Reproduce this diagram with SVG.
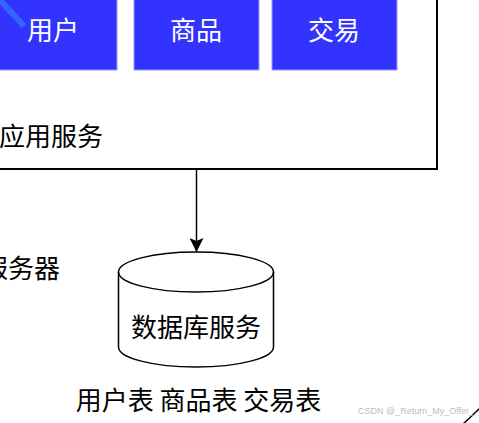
<svg xmlns="http://www.w3.org/2000/svg" width="479" height="423" viewBox="0 0 479 423">
<defs>
<style>
.box{fill:#3333ff;stroke:#9999ff;stroke-width:1}
.wt{fill:#ffffff;font-family:"Noto Sans CJK SC","Noto Sans",sans-serif;font-size:26px;text-anchor:middle}
.bt{fill:#000000;font-family:"Noto Sans CJK SC","Noto Sans",sans-serif;font-size:26px}
.ln{fill:none;stroke:#000;stroke-width:1.5}
</style>
<marker id="ah" viewBox="0 0 14 14" refX="14" refY="7" markerWidth="14" markerHeight="14" markerUnits="userSpaceOnUse" orient="auto">
<path d="M0 0 L14 7 L0 14 L3 7 Z" fill="#000"/>
</marker>
</defs>
<rect width="479" height="423" fill="#fff"/>
<g id="app-server">
<rect x="-20" y="-20" width="457" height="189" fill="#fff" stroke="#000" stroke-width="2"/>
<text class="bt" x="-1" y="146">应用服务</text>
</g>
<g id="user">
<rect class="box" x="-10" y="-10" width="127" height="80"/>
<line x1="-2" y1="-2" x2="24" y2="26" stroke="#3366ff" stroke-width="6"/>
<text class="wt" x="53" y="40">用户</text>
</g>
<g id="goods">
<rect class="box" x="134" y="-10" width="125" height="80"/>
<text class="wt" x="196" y="40">商品</text>
</g>
<g id="trade">
<rect class="box" x="272" y="-10" width="125" height="80"/>
<text class="wt" x="334" y="40">交易</text>
</g>
<g id="server-label">
<text class="bt" x="-18" y="278">服务器</text>
</g>
<g id="db">
<path class="ln" d="M118.5 272 A77.5 20 0 0 1 273.5 272 L273.5 347 A77.5 20 0 0 1 118.5 347 Z" fill="#fff"/>
<path class="ln" d="M118.5 272 A77.5 20 0 0 0 273.5 272"/>
<text class="bt" x="196" y="337" text-anchor="middle">数据库服务</text>
</g>
<g id="tables">
<text class="bt" x="198.5" y="410" text-anchor="middle">用户表 商品表 交易表</text>
</g>
<g id="connectors">
<line x1="196.5" y1="169" x2="196.5" y2="252" stroke="#000" stroke-width="1.5" marker-end="url(#ah)"/>
<path d="M463 424 Q472 416 480 408" fill="none" stroke="#000" stroke-width="1.5"/>
</g>
<text x="358" y="414" font-family="Liberation Sans,sans-serif" font-size="9" fill="#bbbbbb">CSDN @_Return_My_Offer_</text>
</svg>
